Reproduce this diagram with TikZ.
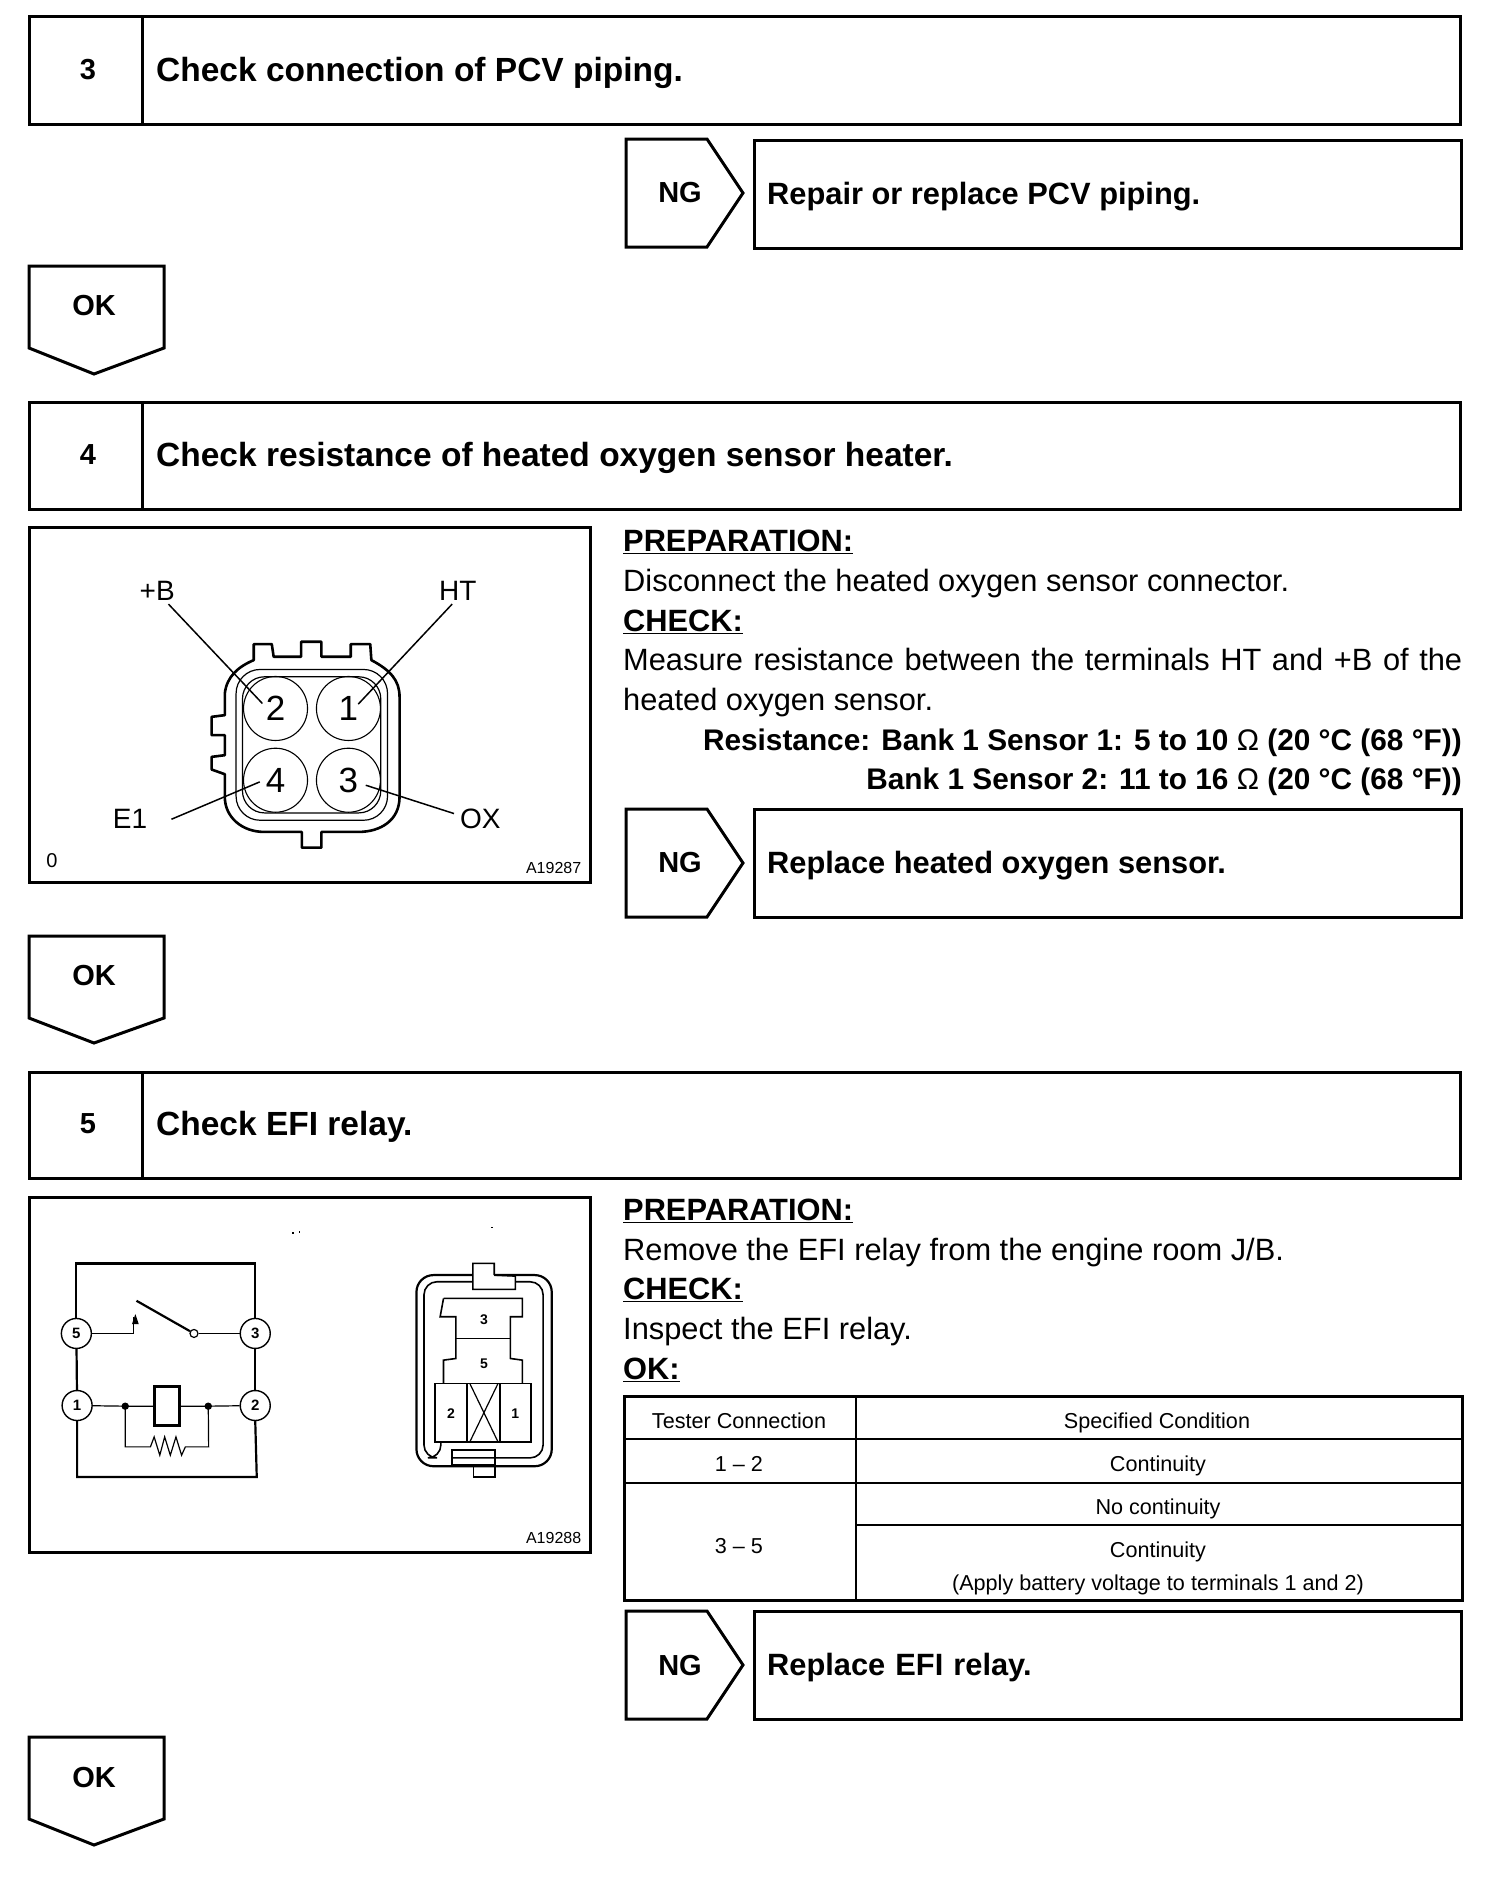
\documentclass[tikz,border=0pt]{standalone}
\usepackage{fontspec}
\setmainfont{Liberation Sans}
\usetikzlibrary{calc}
\newcommand{\fsz}[1]{\fontsize{#1}{#1}\selectfont}
\tikzset{
 heavy/.style={draw=black,line width=3pt,line join=miter},
 boxst/.style={heavy,rectangle,inner sep=0pt,anchor=north west},
 txt/.style={inner sep=0pt,anchor=base west,text=black},
 title/.style={txt,font=\bfseries\fsz{33.5}},
 subtitle/.style={txt,font=\bfseries\fsz{30.8}},
 body/.style={txt,font=\fsz{30.8}},
 bodyb/.style={txt,font=\bfseries\fsz{30.8}},
 tag/.style={inner sep=0pt,font=\bfseries\fsz{29}},
 tcell/.style={inner sep=0pt,anchor=base,font=\fsz{21.6}},
 tline/.style={draw=black,line width=2.6pt},
 lab/.style={inner sep=0pt,font=\fsz{28}},
 pin/.style={draw=black,line width=1.1pt,circle,inner sep=0pt,minimum size=64pt,font=\fsz{35}},
 lead/.style={draw=black,line width=1.5pt},
 rpin/.style={draw=black,line width=1.4pt,circle,inner sep=0pt,minimum size=30pt,font=\bfseries\fsz{15}},
 wire/.style={draw=black,line width=2.2pt},
 fine/.style={draw=black,line width=1.2pt},
}
\newcommand{\ngtag}[3]{%
 \draw[heavy] (626,#1)--(707,#1)--(743,#2)--(707,#3)--(626,#3)--cycle;
 \node[tag] at (680,#2) {NG};}
\newcommand{\oktag}[3]{%
 \draw[heavy] (29,#1)--(164,#1)--(164,#2)--(94,#3)--(29,#2)--cycle;
 \node[tag] at (94,#1+40) {OK};}
\begin{document}
\begin{tikzpicture}[x=1pt,y=-1pt]
\useasboundingbox (0,0) rectangle (1504,1882);
\fill[white] (0,0) rectangle (1504,1882);
% step 3
\node[boxst,minimum width=1431pt,minimum height=108pt] (b3) at (28,15) {};
\draw[heavy] ([xshift=114pt]b3.north west) -- ([xshift=114pt]b3.south west);
\node[tag] (n3) at (88,70) {3};
\node[title] (t3) at (156,81) {Check connection of PCV piping.};
\ngtag{139}{193}{247}
\node[boxst,minimum width=707pt,minimum height=108pt] (r3) at (753,139) {};
\node[subtitle] (tr3) at (767,204) {Repair or replace PCV piping.};
\oktag{266}{348}{374}
% step 4
\node[boxst,minimum width=1431pt,minimum height=107pt] (b4) at (28,401) {};
\draw[heavy] ([xshift=114pt]b4.north west) -- ([xshift=114pt]b4.south west);
\node[tag] (n4) at (88,455) {4};
\node[title] (t4) at (156,466) {Check resistance of heated oxygen sensor heater.};
\node[boxst,line width=2.6pt,minimum width=561pt,minimum height=355pt] (img4) at (28,526) {};
\begin{scope}[shift={(20,520)},x=0.3758pt,y=-0.3336pt]
 \draw[draw=black,line width=2.6pt,line join=round]
  (622,372)--(670,372)--(675,410)--(748,410)--(748,365)--(802,365)--(802,410)--(880,410)--(880,372)--(932,372)--(935,420)
  .. controls (985,450) and (1010,480) .. (1010,530)
  --(1010,830) .. controls (1010,900) and (960,935) .. (900,935)
  --(802,935)--(802,982)--(750,982)--(750,935)--(650,935)
  .. controls (590,935) and (545,890) .. (545,830)
  --(545,762)--(510,748)--(510,710)--(545,705)--(545,645)--(510,645)--(510,590)--(545,585)--(545,520)
  .. controls (550,470) and (580,440) .. (622,420)--cycle;
 \draw[fine,rounded corners=24pt] (575,448) rectangle (978,900);
 \draw[fine,rounded corners=22pt] (592,470) rectangle (960,878);
 \node[pin] (p2) at (680,565) {2};
 \node[pin] (p1) at (874,565) {1};
 \node[pin] (p4) at (680,780) {4};
 \node[pin] (p3) at (874,780) {3};
 \node[lab] (lb) at (365,212) {+B};
 \node[lab] (lh) at (1165,212) {HT};
 \node[lab] (le) at (293,895) {E1};
 \node[lab] (lo) at (1225,895) {OX};
 \coordinate (cb1) at (395,252); \coordinate (cb2) at (645,550);
 \coordinate (ch1) at (1150,252); \coordinate (ch2) at (900,552);
 \coordinate (ce1) at (403,897); \coordinate (ce2) at (638,785);
 \coordinate (co1) at (1155,880); \coordinate (co2) at (920,795);
 \draw[lead] (cb1)--(cb2);
 \draw[lead] (ch1)--(ch2);
 \draw[lead] (ce1)--(ce2);
 \draw[lead] (co1)--(co2);
 \node[inner sep=0pt,font=\fsz{20}] (zero) at (85,1022) {0};
 \node[inner sep=0pt,font=\fsz{16}] (code4) at (1420,1042) {A19287};
\end{scope}
\node[bodyb] (pr4) at (623,551) {\underline{PREPARATION:}};
\node[body] (d4) at (623,591) {Disconnect the heated oxygen sensor connector.};
\node[bodyb] (c4) at (623,631) {\underline{CHECK:}};
\node[body] (m4) at (623,670) {\makebox[839pt][s]{Measure resistance between the terminals HT and +B of the}};
\node[body] (h4) at (623,710) {heated oxygen sensor.};
\node[txt,anchor=base east,font=\bfseries\fsz{29.8}] (res1) at (1462,750) {Resistance: Bank 1 Sensor 1: 5 to 10 {\mdseries Ω} (20 °C (68 °F))};
\node[txt,anchor=base east,font=\bfseries\fsz{29.8}] (res2) at (1462,789) {Bank 1 Sensor 2: 11 to 16 {\mdseries Ω} (20 °C (68 °F))};
\ngtag{809}{863}{917}
\node[boxst,minimum width=707pt,minimum height=108pt] (r4) at (753,808) {};
\node[subtitle] (tr4) at (767,873) {Replace heated oxygen sensor.};
\oktag{936}{1018}{1043}
% step 5
\node[boxst,minimum width=1431pt,minimum height=106pt] (b5) at (28,1071) {};
\draw[heavy] ([xshift=114pt]b5.north west) -- ([xshift=114pt]b5.south west);
\node[tag] (n5) at (88,1124) {5};
\node[title] (t5) at (156,1135) {Check EFI relay.};
\node[boxst,line width=2.6pt,minimum width=561pt,minimum height=355pt] (img5) at (28,1196) {};
\begin{scope}[shift={(20,1190)},x=0.3758pt,y=-0.3336pt]
 \node[rpin] (r5) at (150,430) {5};
 \node[rpin] (r3p) at (626,430) {3};
 \node[rpin] (r1) at (152,646) {1};
 \node[rpin] (r2) at (626,646) {2};
 \draw[wire] (r5.north) |- (r3p.north |- 0,220) -- (r3p.north);
 \draw[wire] (r5)--(r1);
 \draw[wire] (r3p)--(r2);
 \draw[wire] (r1.south) |- (630,860) -- (r2.south);
 \coordinate (cc) at (303,380);
 \draw[fine] (r5.east) -- (303,430) -- (cc);
 \fill[black] (307,372)--(298,402)--(316,402)--cycle;
 \node[draw=black,line width=1.2pt,circle,inner sep=0pt,minimum size=8pt] (hinge) at (463,430) {};
 \coordinate (sw) at (310,332);
 \draw[wire] (sw)--(hinge);
 \draw[fine] (hinge)--(r3p);
 \node[draw=black,line width=2.4pt,rectangle,inner sep=0pt,minimum width=25pt,minimum height=39pt] (coil) at (391,648) {};
 \coordinate (da) at (280,648); \coordinate (db) at (501,648);
 \draw[fine] (r1)--(da)--(coil);
 \draw[fine] (coil)--(db)--(r2);
 \fill[black] (da) circle [x radius=10,y radius=11];
 \fill[black] (db) circle [x radius=10,y radius=11];
 \draw[fine] (da)--(280,770)--(347,770)--(357,740)--(372,795)--(385,740)--(400,795)--(415,740)--(430,795)--(440,770)--(502,770)--(db);
 % relay socket
 \draw[wire,rounded corners=17pt] (1205,255)--(1055,255)--(1055,828)--(1415,828)--(1415,255)--(1262,255);
 \draw[fine,line width=1.6pt,rounded corners=13pt] (1318,275)--(1392,275)--(1392,803)--(1150,803);
 \draw[fine,line width=1.6pt,rounded corners=13pt] (1205,275)--(1075,275)--(1075,803)--(1120,803)--(1120,755);
 \draw[fine,line width=1.6pt] (1262,255)--(1318,258)--(1318,298)--(1205,298)--(1205,220)--(1262,220)--(1262,255);
 \draw[fine,line width=1.6pt] (1127,325)--(1337,325)--(1337,380)--(1305,380)--(1305,505)--(1337,510)--(1337,578);
 \draw[fine,line width=1.6pt] (1127,325)--(1118,380)--(1160,380)--(1160,505)--(1127,510)--(1127,578);
 \draw[fine] (1160,445)--(1305,445);
 \draw[fine,line width=1.6pt] (1105,580) rectangle (1360,755);
 \draw[fine,line width=1.6pt] (1190,580)--(1190,755);
 \draw[fine,line width=1.6pt] (1278,580)--(1278,755);
 \draw[fine] (1197,580)--(1272,755);
 \draw[fine] (1272,580)--(1197,755);
 \draw[fine,line width=1.8pt] (1150,780) rectangle (1265,825);
 \draw[fine,line width=1.8pt] (1207,825)--(1207,860)--(1265,860)--(1265,825);
 \node[inner sep=0pt,font=\bfseries\fsz{14}] (s3) at (1235,388) {3};
 \node[inner sep=0pt,font=\bfseries\fsz{14}] (s5) at (1235,520) {5};
 \node[inner sep=0pt,font=\bfseries\fsz{14}] (s2) at (1147,670) {2};
 \node[inner sep=0pt,font=\bfseries\fsz{14}] (s1) at (1318,670) {1};
 \fill[black] (725,127) rectangle +(4,4);
 \fill[black] (742,124) rectangle +(4,4);
 \fill[black] (1254,111) rectangle +(4,4);
 \node[inner sep=0pt,font=\fsz{16}] (code5) at (1420,1042) {A19288};
\end{scope}
\node[bodyb] (pr5) at (623,1220) {\underline{PREPARATION:}};
\node[body] (d5) at (623,1260) {Remove the EFI relay from the engine room J/B.};
\node[bodyb] (c5) at (623,1299) {\underline{CHECK:}};
\node[body] (m5) at (623,1339) {Inspect the EFI relay.};
\node[bodyb] (o5) at (623,1379) {\underline{OK:}};
% table
\node[boxst,line width=2.6pt,minimum width=838pt,minimum height=204pt] (tab) at (623,1395) {};
\draw[tline] (856,1395)--(856,1599);
\draw[tline] (623,1439)--(1461,1439);
\draw[tline] (623,1483)--(1461,1483);
\draw[tline] (856,1525)--(1461,1525);
\node[tcell] (h1) at (739,1428) {Tester Connection};
\node[tcell] (h2) at (1157,1428) {Specified Condition};
\node[tcell] (a1) at (739,1471) {1 – 2};
\node[tcell] (a2) at (1158,1471) {Continuity};
\node[tcell] (a3) at (739,1553) {3 – 5};
\node[tcell] (a4) at (1158,1514) {No continuity};
\node[tcell] (a5) at (1158,1557) {Continuity};
\node[tcell] (a6) at (1158,1590) {(Apply battery voltage to terminals 1 and 2)};
\ngtag{1611}{1665}{1719}
\node[boxst,minimum width=707pt,minimum height=108pt] (r5b) at (753,1610) {};
\node[subtitle] (tr5) at (767,1675) {Replace\hspace{0.05em} EFI\hspace{0.05em} relay.};
\oktag{1737}{1819}{1845}
\end{tikzpicture}
\end{document}
